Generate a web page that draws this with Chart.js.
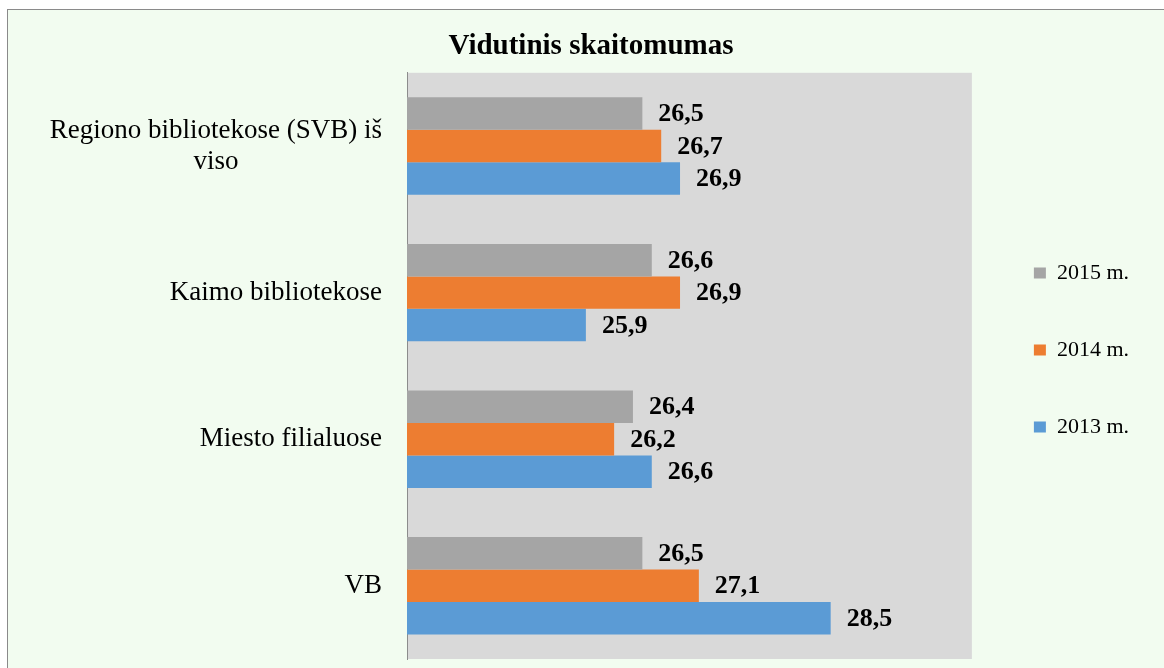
<!DOCTYPE html>
<html>
<head>
<meta charset="utf-8" />
<style>
  html, body { margin: 0; padding: 0; background: #ffffff; overflow: hidden; width: 1164px; height: 668px; }
  #frame { position: absolute; left: 7px; top: 9px; width: 1200px; height: 700px;
           border-top: 1px solid #8a8a8a; border-left: 1px solid #8a8a8a; background: #f2fcf0; }
  #c { position: absolute; left: 0; top: 0; }
</style>
</head>
<body>
<div id="frame">
  <canvas id="c" width="1166" height="680"></canvas>
</div>
<script src="https://cdn.jsdelivr.net/npm/chart.js@4.4.3/dist/chart.umd.min.js"></script>
<script>
const categories = [['Regiono bibliotekose (SVB) iš', 'viso'], 'Kaimo bibliotekose', 'Miesto filialuose', 'VB'];
const seriesNames = ['2015 m.', '2014 m.', '2013 m.'];
const values2015 = [26.5, 26.6, 26.4, 26.5];
const values2014 = [26.7, 26.9, 26.2, 27.1];
const values2013 = [26.9, 25.9, 26.6, 28.5];
const xMin = 24;
const xMax = 30;

const serif = "'Liberation Serif', 'Times New Roman', serif";

// grey plot background
const plotBg = {
  id: 'plotBg',
  beforeDraw(chart) {
    const { ctx, chartArea: a } = chart;
    ctx.save();
    ctx.fillStyle = '#d9d9d9';
    ctx.fillRect(a.left, a.top, a.right - a.left, a.bottom - a.top);
    ctx.restore();
  }
};

// category labels: block right aligned, lines centred inside it
const catLabels = {
  id: 'catLabels',
  afterDraw(chart) {
    const { ctx } = chart;
    const y = chart.scales.y;
    ctx.save();
    ctx.font = '27px ' + serif;
    ctx.fillStyle = '#000';
    ctx.textBaseline = 'middle';
    ctx.textAlign = 'center';
    const right = chart.chartArea.left - 25;
    const lh = 31;
    categories.forEach((lab, i) => {
      const lines = Array.isArray(lab) ? lab : [lab];
      const w = Math.max(...lines.map(l => ctx.measureText(l).width));
      const cx = right - w / 2;
      const cy = y.getPixelForTick(i);
      lines.forEach((l, k) => {
        ctx.fillText(l, cx, cy + (k - (lines.length - 1) / 2) * lh);
      });
    });
    ctx.restore();
  }
};

// value labels after bar ends
const valueLabels = {
  id: 'valueLabels',
  afterDatasetsDraw(chart) {
    const { ctx } = chart;
    ctx.save();
    ctx.font = 'bold 26px ' + serif;
    ctx.fillStyle = '#000';
    ctx.textBaseline = 'middle';
    ctx.textAlign = 'left';
    chart.data.datasets.forEach((ds, i) => {
      chart.getDatasetMeta(i).data.forEach((bar, j) => {
        const txt = ds.data[j].toFixed(1).replace('.', ',');
        ctx.fillText(txt, bar.x + 16, bar.y + 1);
      });
    });
    ctx.restore();
  }
};

new Chart(document.getElementById('c').getContext('2d'), {
  type: 'bar',
  data: {
    labels: categories,
    datasets: [
      { label: seriesNames[0], data: values2015, backgroundColor: '#a5a5a5' },
      { label: seriesNames[1], data: values2014, backgroundColor: '#ed7d31' },
      { label: seriesNames[2], data: values2013, backgroundColor: '#5b9bd5' }
    ]
  },
  options: {
    indexAxis: 'y',
    responsive: false,
    animation: false,
    devicePixelRatio: 1,
    categoryPercentage: 0.665,
    barPercentage: 1,
    layout: { padding: { left: 35, right: 35, top: 0, bottom: 0 } },
    scales: {
      x: {
        type: 'linear', min: xMin, max: xMax,
        grid: { display: false }, border: { display: false },
        ticks: { display: false },
        afterFit(s) { s.height = 31; }
      },
      y: {
        type: 'category',
        grid: { display: false },
        border: { display: true, color: '#8c8c8c', width: 1 },
        ticks: { display: false },
        afterFit(s) { s.width = 364; }
      },
      yPad: {
        type: 'linear', axis: 'y', position: 'right',
        grid: { display: false }, border: { display: false },
        ticks: { display: false },
        afterFit(s) { s.width = 7; }
      }
    },
    plugins: {
      title: {
        display: true,
        text: 'Vidutinis skaitomumas',
        color: '#000',
        font: { family: serif, size: 29, weight: 'bold' },
        padding: { top: 19, bottom: 9 }
      },
      legend: {
        display: true,
        position: 'right',
        labels: {
          color: '#000',
          font: { family: serif, size: 22 },
          boxWidth: 12,
          boxHeight: 11,
          padding: 55
        }
      },
      tooltip: { enabled: false }
    }
  },
  plugins: [plotBg, catLabels, valueLabels]
});
</script>
</body>
</html>
